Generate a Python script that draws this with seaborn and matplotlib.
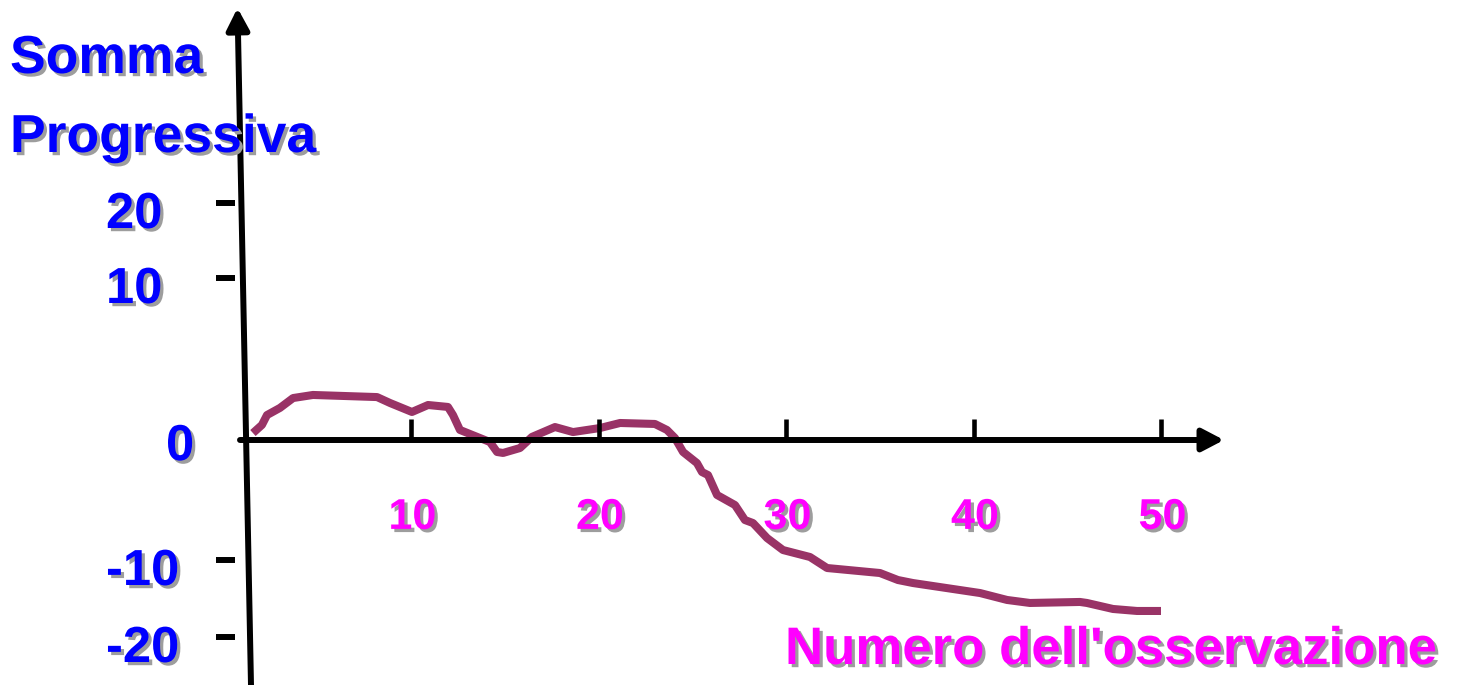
import numpy as np
import matplotlib
matplotlib.use("Agg")
import matplotlib.pyplot as plt
import matplotlib.patheffects as pe
import seaborn as sns

# Running sum against observation number
osservazione = [1.57, 2.05, 2.32, 3.01, 3.71, 4.77, 8.19, 8.89, 10.05, 10.91,
                11.97, 12.24, 12.61, 14.21, 14.59, 14.91, 15.81, 16.45, 17.68, 18.64,
                20.08, 21.15, 23.01, 23.65, 24.08, 24.51, 25.25, 25.52, 25.84, 26.32,
                27.28, 27.81, 28.24, 28.99, 29.84, 31.28, 32.19, 35.01, 35.97, 36.77,
                40.35, 41.79, 43.01, 45.68, 46.05, 47.44, 48.72, 50.0]
somma = [0.43, 0.93, 1.54, 1.98, 2.59, 2.78, 2.65, 2.28, 1.73, 2.16,
         2.04, 1.54, 0.62, -0.17, -1.00, -1.08, -0.67, 0.19, 0.80, 0.49,
         0.74, 1.05, 0.99, 0.62, 0.12, -1.00, -1.92, -2.67, -2.92, -4.58,
         -5.42, -6.67, -6.92, -8.17, -9.17, -9.75, -11.04, -11.69, -12.60, -12.99,
         -14.29, -15.19, -15.58, -15.45, -15.58, -16.36, -16.62, -16.62]

x_ticks = [10, 20, 30, 40, 50]
x_tick_labels = ["10", "20", "30", "40", "50"]
y_ticks = [20, 10, 0, -10, -20]
y_tick_labels = ["20", "10", "0", "-10", "-20"]
y_title = ["Somma", "Progressiva"]
x_title = "Numero dell'osservazione"

W, H = 1461, 685
LINE_COLOR = "#993366"
BLUE = "#0000FF"
MAGENTA = "#FF00FF"

sns.set_style("white")
plt.rcParams["font.family"] = ["Liberation Sans", "DejaVu Sans"]
plt.rcParams["font.weight"] = "bold"

# Schematic vertical axis: uneven spacing between the labelled levels
Y_LEVELS = np.array([-60, -20, -10, 0, 10, 20, 60], dtype=float)
Y_PIX = np.array([945, 637, 560, 440, 278, 203, -97], dtype=float)


def forward(v):
    return np.interp(v, Y_LEVELS, -Y_PIX)


def inverse(p):
    return np.interp(p, -Y_PIX, Y_LEVELS)


def px_to_obs(px):
    return (px - 223.5) / 18.75


fig = plt.figure(figsize=(W / 100, H / 100), dpi=100)
ax = fig.add_axes([0, 0, 1, 1])
ax.set_yscale("function", functions=(forward, inverse))
ax.set_xlim(px_to_obs(0), px_to_obs(W))
ax.set_ylim(inverse(-H), inverse(0))
ax.axis("off")

shadow = [pe.SimplePatchShadow(offset=(2.3, -2.3), shadow_rgbFace="#9d9d9d", alpha=1.0),
          pe.Normal()]

# Curve
sns.lineplot(x=osservazione, y=somma, ax=ax, color=LINE_COLOR, linewidth=5.8,
             estimator=None, sort=False, legend=False)
for ln in ax.lines:
    ln.set_solid_joinstyle("round")
    ln.set_solid_capstyle("butt")

arrow_style = "-|>,head_length=0.65,head_width=0.34"

# Horizontal axis with arrow
ax.annotate("", xy=(px_to_obs(1224), 0), xytext=(px_to_obs(240), 0),
            arrowprops=dict(arrowstyle=arrow_style, color="black", lw=4.3,
                            mutation_scale=20, shrinkA=0, shrinkB=0))
# Vertical axis with arrow (slightly slanted)
ax.annotate("", xy=(237.5 / W, 1 - 8 / H), xytext=(251 / W, 0.0),
            xycoords="axes fraction", textcoords="axes fraction",
            arrowprops=dict(arrowstyle=arrow_style, color="black", lw=4.3,
                            mutation_scale=20, shrinkA=0, shrinkB=0))

# Tick marks
ax.vlines(x_ticks, 0, 1.3, color="black", lw=3.3)
ax.hlines([v for v in y_ticks if v != 0], px_to_obs(216), px_to_obs(235),
          color="black", lw=4.3)

# Tick labels
for v, lab in zip(x_ticks, x_tick_labels):
    ax.annotate(lab, xy=(v, 0), xytext=(1, -64), textcoords="offset points",
                ha="center", va="baseline", fontsize=31, color=MAGENTA,
                fontweight="bold", path_effects=shadow)
for v, lab in zip(y_ticks, y_tick_labels):
    x_left = px_to_obs(166) if v == 0 else px_to_obs(106)
    dy = -14.5 if v == 0 else -18
    ax.annotate(lab, xy=(x_left, v), xytext=(0, dy), textcoords="offset points",
                ha="left", va="baseline", fontsize=36.5, color=BLUE,
                fontweight="bold", path_effects=shadow)

# Axis titles
fig.text(10 / W, 1 - 73 / H, y_title[0], ha="left", va="baseline", fontsize=38.5,
         color=BLUE, fontweight="bold", path_effects=shadow)
fig.text(10 / W, 1 - 152 / H, y_title[1], ha="left", va="baseline", fontsize=38.5,
         color=BLUE, fontweight="bold", path_effects=shadow)
fig.text(785 / W, 1 - 664 / H, x_title, ha="left", va="baseline", fontsize=38,
         color=MAGENTA, fontweight="bold", path_effects=shadow)

fig.savefig("out.png", dpi=100, facecolor="white")
